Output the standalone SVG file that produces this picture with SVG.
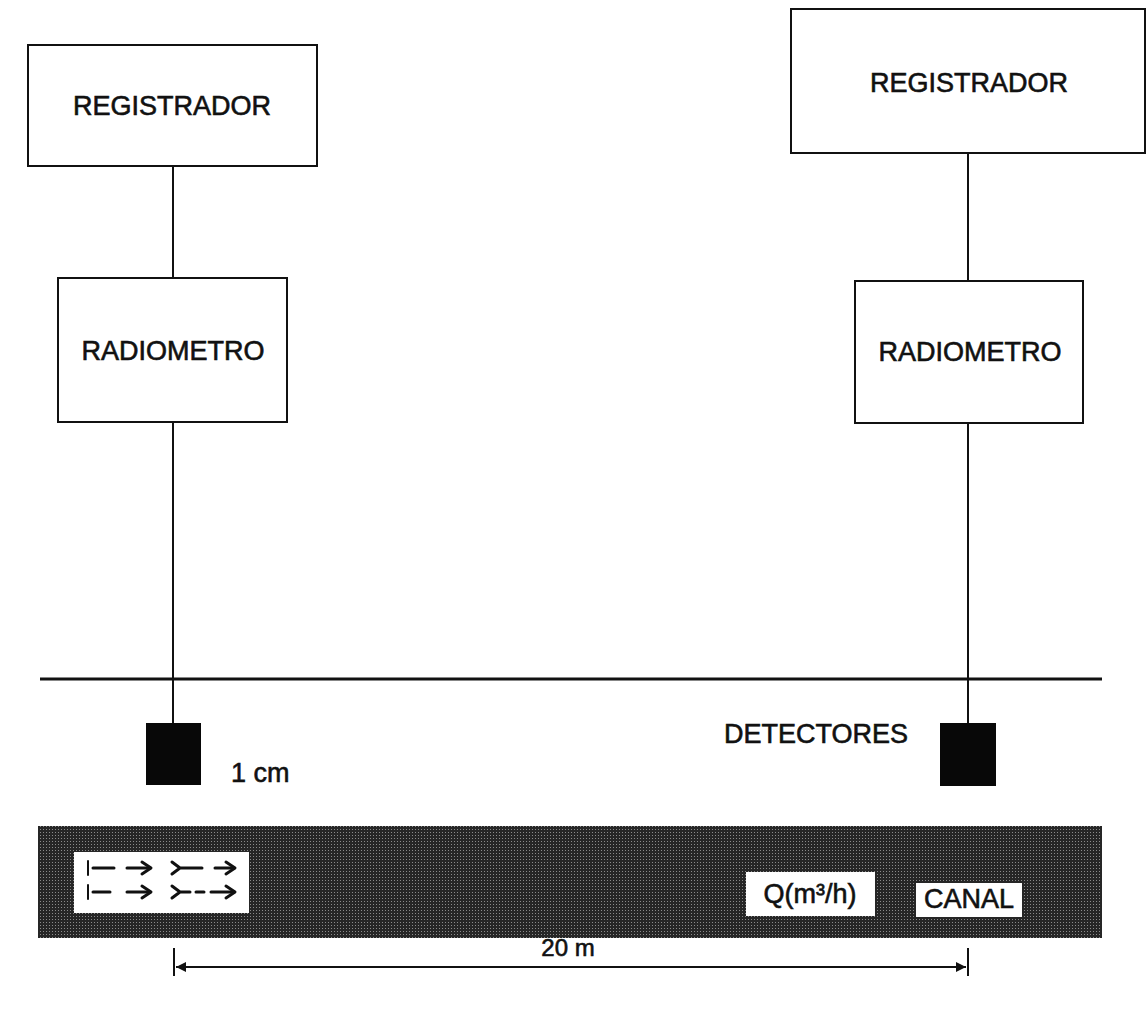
<svg xmlns="http://www.w3.org/2000/svg" width="1147" height="1032" viewBox="0 0 1147 1032">
  <style>
    .box { fill: #ffffff; stroke: #111; stroke-width: 2; }
    .lbl { font-family: "Liberation Sans", Arial, sans-serif; font-size: 27px; fill: #111; stroke: #111; stroke-width: 0.6; }
    .mid { text-anchor: middle; }
    .wire { stroke: #111; stroke-width: 2; fill: none; }
    .det { fill: #080808; }
    .glyph { stroke: #111; stroke-width: 3; fill: none; stroke-linecap: round; stroke-linejoin: round; }
  </style>
  <defs>
    <pattern id="stipple" width="3" height="3" patternUnits="userSpaceOnUse">
      <rect width="3" height="3" fill="#262626"/>
      <rect x="1" y="1" width="1" height="1" fill="#8a8a8a"/>
    </pattern>
    <marker id="ah" viewBox="0 0 10 10" refX="10" refY="5" markerWidth="5" markerHeight="5" orient="auto-start-reverse">
      <path d="M0,0 L10,5 L0,10 z" fill="#111"/>
    </marker>
  </defs>
  <rect width="1147" height="1032" fill="#ffffff"/>

  <g id="connectors">
    <line class="wire" x1="173" y1="166" x2="173" y2="278"/>
    <line class="wire" x1="173" y1="422" x2="173" y2="723"/>
    <line class="wire" x1="968" y1="153" x2="968" y2="281"/>
    <line class="wire" x1="968" y1="423" x2="968" y2="723"/>
  </g>

  <g id="ground">
    <line x1="40" y1="679" x2="1102" y2="679" stroke="#111" stroke-width="3"/>
  </g>

  <g id="registrador-left">
    <rect class="box" x="28" y="45" width="289" height="121"/>
    <text class="lbl mid" x="172" y="115">REGISTRADOR</text>
  </g>
  <g id="registrador-right">
    <rect class="box" x="791" y="9" width="354" height="144"/>
    <text class="lbl mid" x="969" y="92">REGISTRADOR</text>
  </g>
  <g id="radiometro-left">
    <rect class="box" x="58" y="278" width="229" height="144"/>
    <text class="lbl mid" x="173" y="360">RADIOMETRO</text>
  </g>
  <g id="radiometro-right">
    <rect class="box" x="855" y="281" width="228" height="142"/>
    <text class="lbl mid" x="970" y="361">RADIOMETRO</text>
  </g>

  <g id="detector-left">
    <rect class="det" x="146" y="723" width="55" height="62"/>
    <text class="lbl" x="231" y="782">1 cm</text>
  </g>
  <g id="detector-right">
    <rect class="det" x="940" y="723" width="56" height="63"/>
    <text class="lbl" x="724" y="743">DETECTORES</text>
  </g>

  <g id="canal">
    <rect x="38" y="826" width="1064" height="112" fill="url(#stipple)"/>
    <rect x="74" y="852" width="175" height="61" fill="#ffffff"/>
    <g class="glyph">
      <line x1="88" y1="861" x2="88" y2="875" stroke-width="2"/>
      <line x1="93" y1="868" x2="114" y2="868"/>
      <line x1="127" y1="868" x2="150" y2="868"/>
      <polyline points="142,862 151,868 142,874"/>
      <path d="M172,862 L180,868 L172,874 M180,868 L202,868"/>
      <line x1="215" y1="868" x2="234" y2="868"/>
      <polyline points="226,862 235,868 226,874"/>

      <line x1="88" y1="885" x2="88" y2="899" stroke-width="2"/>
      <line x1="93" y1="892" x2="110" y2="892"/>
      <line x1="127" y1="892" x2="150" y2="892"/>
      <polyline points="142,886 151,892 142,898"/>
      <path d="M172,886 L180,892 L172,898 M180,892 L190,892 M196,892 L204,892"/>
      <line x1="211" y1="892" x2="234" y2="892"/>
      <polyline points="226,886 235,892 226,898"/>
    </g>
    <rect x="746" y="872" width="129" height="44" fill="#ffffff"/>
    <text class="lbl mid" x="810" y="903">Q(m³/h)</text>
    <rect x="916" y="883" width="106" height="34" fill="#ffffff"/>
    <text class="lbl mid" x="969" y="908">CANAL</text>
  </g>

  <g id="dimension">
    <line class="wire" x1="174" y1="948" x2="174" y2="976"/>
    <line class="wire" x1="968" y1="948" x2="968" y2="976"/>
    <line class="wire" x1="176" y1="967" x2="966" y2="967" marker-start="url(#ah)" marker-end="url(#ah)"/>
    <text class="lbl mid" x="568" y="956" style="font-size:24px">20 m</text>
  </g>
</svg>
